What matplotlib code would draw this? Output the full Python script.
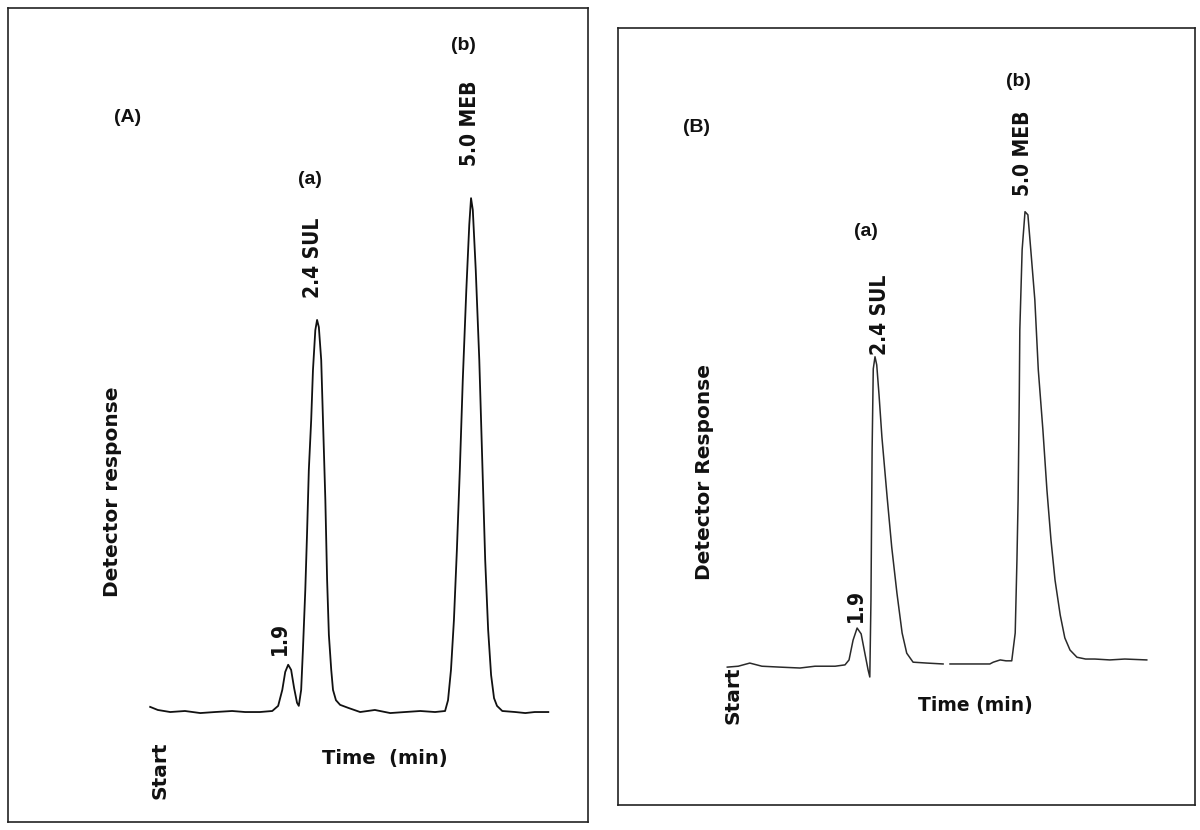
import numpy as np
import matplotlib
matplotlib.use("Agg")
import matplotlib.pyplot as plt

# ---------------- data ----------------
# Panel A: time (min) and detector response (arbitrary units)
time_a = [-0.44, -0.31, -0.10, 0.15, 0.41, 0.66, 0.95, 1.17, 1.42, 1.63, 1.73, 1.80, 1.85, 1.90,
          1.95, 2.00, 2.05, 2.08, 2.12, 2.15, 2.19, 2.22, 2.25, 2.29, 2.32, 2.36, 2.39, 2.42,
          2.46, 2.49, 2.53, 2.56, 2.59, 2.63, 2.66, 2.71, 2.78, 2.92, 3.12, 3.37, 3.63, 3.88,
          4.14, 4.39, 4.56, 4.61, 4.66, 4.71, 4.76, 4.81, 4.86, 4.92, 4.97, 5.00, 5.03, 5.08,
          5.14, 5.19, 5.24, 5.29, 5.34, 5.39, 5.44, 5.53, 5.75, 5.92, 6.08, 6.31]
resp_a = [0.8, 0.2, -0.2, 0.0, -0.4, -0.2, 0.0, -0.2, -0.2, 0.0, 1.0, 4.1, 7.6, 9.0,
          8.0, 4.5, 1.6, 1.0, 4.1, 11.9, 23.5, 34.6, 46.9, 56.6, 66.3, 74.1, 76.1, 74.7,
          68.3, 56.6, 41.1, 25.5, 14.8, 8.0, 4.1, 2.1, 1.2, 0.6, -0.2, 0.2, -0.4, -0.2,
          0.0, -0.2, 0.0, 2.1, 8.0, 17.7, 31.3, 46.9, 64.4, 81.9, 94.6, 99.8, 97.5, 85.8,
          68.3, 48.8, 29.4, 15.8, 7.0, 2.5, 1.0, 0.0, -0.2, -0.4, -0.2, -0.2]

# Panel B (nan = break in the recorded trace)
time_b = [-0.16, 0.03, 0.23, 0.44, 0.75, 1.10, 1.36, 1.71, 1.88, 1.95, 2.02, 2.09, 2.16, 2.23,
          2.28, 2.31, 2.33, 2.35, 2.37, 2.40, 2.43, 2.47, 2.52, 2.61, 2.69, 2.78, 2.87, 2.95,
          3.06, 3.30, 3.58, np.nan, 3.70, 4.39, 4.45, 4.57, 4.67, 4.77, 4.83, 4.86, 4.88, 4.90,
          4.91, 4.95, 5.00, 5.05, 5.10, 5.17, 5.23, 5.31, 5.38, 5.45, 5.52, 5.61, 5.69, 5.78,
          5.90, 6.05, 6.21, 6.47, 6.73, 7.11]
resp_b = [-1.8, -1.6, -0.9, -1.6, -1.8, -2.0, -1.6, -1.6, -1.3, -0.2, 4.2, 6.9, 5.6, 0.9,
          -2.4, -4.0, 13.1, 46.5, 64.6, 67.3, 65.5, 58.8, 49.4, 36.1, 24.9, 14.7, 5.8, 1.3,
          -0.7, -0.9, -1.1, np.nan, -1.1, -1.1, -0.7, -0.2, -0.4, -0.4, 5.8, 22.0, 35.4, 57.7,
          73.3, 91.1, 99.6, 98.9, 91.1, 80.0, 64.4, 51.0, 37.6, 26.5, 17.6, 9.8, 4.7, 2.0,
          0.4, 0.0, 0.0, -0.2, 0.0, -0.2]

peak_labels = ["1.9", "2.4 SUL", "5.0 MEB"]
peak_ids = ["(a)", "(b)"]
panel_names = ["(A)", "(B)"]
ylabels = ["Detector response", "Detector Response"]
xlabels = ["Time  (min)", "Time (min)"]
start_label = "Start"

# ---------------- figure ----------------
W, H = 1200, 830
fig = plt.figure(figsize=(W / 100, H / 100), dpi=100)
fig.patch.set_facecolor("white")


def fx(px):
    return px / W


def fy(py):
    return 1 - py / H


arial = ["Liberation Sans", "DejaVu Sans"]
verdana = ["DejaVu Sans"]

# Panel A axes (box)
axA = fig.add_axes([fx(8), fy(822), fx(588) - fx(8), fy(8) - fy(822)])
axA.plot(time_a, resp_a, color="#111111", lw=1.3)
axA.set_xlim(-2.85, 6.983)
axA.set_ylim(-21.6, 136.8)

# Panel B axes (box)
axB = fig.add_axes([fx(618), fy(805), fx(1195) - fx(618), fy(28) - fy(805)])
axB.plot(time_b, resp_b, color="#2a2a2a", lw=1.1)
axB.set_xlim(-2.054, 7.946)
axB.set_ylim(-32.5, 140.5)

for ax in (axA, axB):
    ax.set_xticks([])
    ax.set_yticks([])
    for s in ax.spines.values():
        s.set_linewidth(1.2)
        s.set_color("#222222")


# ---------------- texts ----------------
def t(px, py, s, size, fam, rot=0, weight="bold", stretch="normal"):
    fig.text(fx(px), fy(py), s, ha="center", va="center", rotation=rot,
             fontsize=size, family=fam, fontweight=weight, fontstretch=stretch,
             color="#111111")


# Panel A
t(128, 118, panel_names[0], 14, arial)
t(310, 180, peak_ids[0], 14, arial)
t(463, 45, peak_ids[1], 14, arial)
t(313, 258, peak_labels[1], 15, verdana, rot=90, stretch="condensed")
t(470, 123, peak_labels[2], 15, verdana, rot=90, stretch="condensed")
t(280, 638, peak_labels[0], 15, verdana, rot=90, stretch="condensed")
t(113, 492, ylabels[0], 14.5, verdana, rot=90)
t(160, 770, start_label, 14.5, verdana, rot=90)
t(385, 758, xlabels[0], 14, verdana)

# Panel B
t(697, 127, panel_names[1], 14, arial)
t(866, 232, peak_ids[0], 14, arial)
t(1018, 82, peak_ids[1], 14, arial)
t(880, 315, peak_labels[1], 15, verdana, rot=90, stretch="condensed")
t(1023, 153, peak_labels[2], 15, verdana, rot=90, stretch="condensed")
t(856, 605, peak_labels[0], 15, verdana, rot=90, stretch="condensed")
t(705, 472, ylabels[1], 14.5, verdana, rot=90)
t(733, 695, start_label, 14.5, verdana, rot=90)
t(975, 705, xlabels[1], 13.5, verdana)

fig.savefig("out.png", dpi=100, facecolor="white")
